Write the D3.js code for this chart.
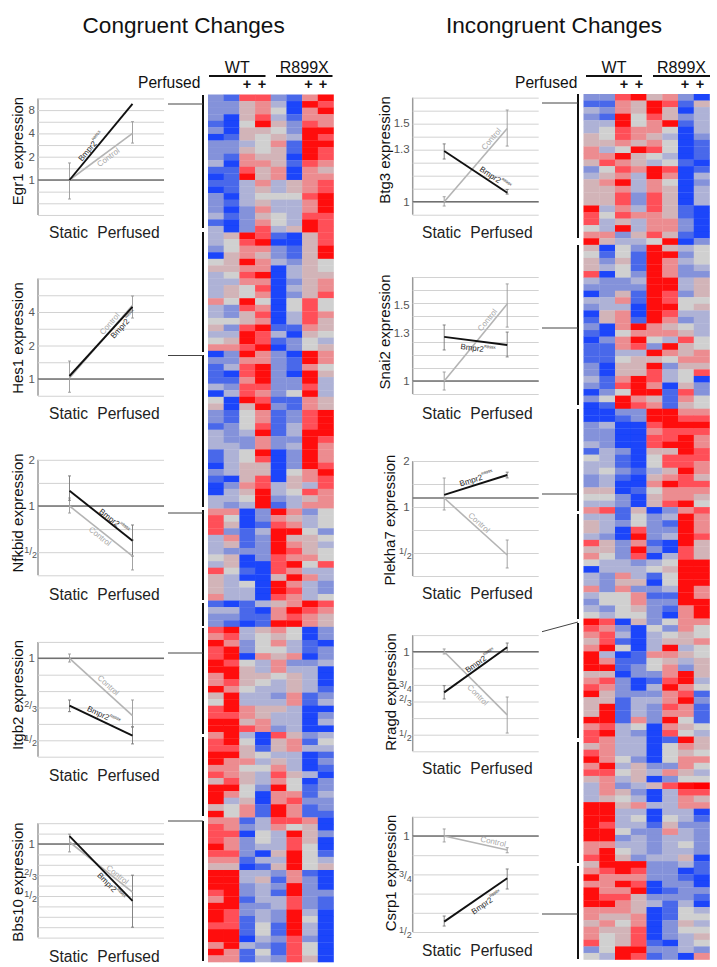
<!DOCTYPE html>
<html><head><meta charset="utf-8">
<script src="https://cdn.jsdelivr.net/npm/d3@7"></script>
<style>html,body{margin:0;padding:0;background:#fff}svg{display:block}text{font-family:"Liberation Sans",Arial,sans-serif}</style>
</head><body><svg id="c" width="717" height="967"></svg>
<script>
// Heatmap values: each row is 8 samples, digit 0 (most down) .. 4 (neutral) .. 8 (most up)
const heatCongruent = [
"21772168","22563087","22564068","20573166","10485276","20554288","01545387","22346188","22545187","21655087",
"30665176","11756065","01856066","11363567","01353567","20344478","21353368","20263368","31254377","10264387",
"30273587","35871057","34780057","24662158","05652158","45863254","55660354","34780355","33660256","35470356",
"35460257","64840474","32760474","32570376","44560375","52781165","33873054","45871243","66780245","02862086",
"22662186","13782164","10782085","11682283","32772273","03762483","40871165","50582165","21461278","21461278",
"12471378","32381388","32262287","33262386","13480286","13470286","03550287","23550468","10570567","02673537",
"03583476","33482356","32381366","66028624","74026534","75017634","72138842","36128554","35128653","32228754",
"45027664","35007847","74107633","53005863","53408632","53308732","63307634","10135687","33106876","22116765",
"21018865","78356402","67345402","86246310","78244312","78065602","87436223","88536330","68554530","67543530",
"86433531","58332612","48333613","78655300","77653302","88563303","88762300","68307523","78405614","77515633",
"88543301","86635302","66446301","76537530","57536402","88428412","86406613","83506722","54618612","84618611",
"66137760","76236450","77043852","76243750","86233740","77205841","66133843","55015845","88332610","88351620",
"88232820","78231822","68133721","88223721","87232830","87132840","77141830","88141830","88032720","68321740",
"86141740","66132750"];
const heatIncongruent = [
"22785620","11658715","32658503","21847523","33846813","34766403","54765302","55656401","63487401","66854301",
"57653410","24768701","35638603","56836402","55636503","55727503","55727503","83637510","74766510","73536620",
"43836620","66257510","85334802","50428534","41418824","52518634","53418623","70428622","32238835","22228835",
"02518725","33618744","23308845","05608733","15618623","20686543","10466653","02684374","11672854","11338656",
"11455466","20558255","20557347","31687340","21786052","02488172","24865164","01876154","00228866","00128877",
"23007888","22006777","22007786","32007886","13205587","43104777","33104776","34213586","23105675","23006877",
"55014666","44205665","33205784","67150267","33142386","53242186","53072286","32082387","75261085","55282075",
"64270375","43323488","03334588","32631488","32550488","62622386","34461186","24462288","32452168","43442068",
"87052466","76204264","67303454","57103556","68403834","83016654","86114535","88124625","55022685","67201783",
"76203864","85222671","55133682","58132761","58132661","88162841","67340654","78320743","76330185","56330465",
"76330454","86420466","68352264","77453653","56350244","36235789","36520377","35430365","88563366","88330330",
"88340431","87331522","88422632","88232332","66332342","68432332","78523350","58882231","67872201","86662210",
"66870220","86680122","87752221","88653130","66650143","65560144","56460253","65570244","64570235","74571034",
"24882232","43871206"];

const heatStops = ["#1a44fa","#4a68ea","#8492da","#aeb2d6","#d0d0d0","#d2b4b8","#ec8c90","#ff5058","#ff0a0a"];
const heatLevels = [0,1,2,3,4,5,6,7,8];

// Line panels
const genes   = ["Egr1","Hes1","Nfkbid","Itgb2","Bbs10","Btg3","Snai2","Plekha7","Rragd","Csrp1"];
const bmpr    = [[1,9.6],[1.064,4.45],[1.258,.594],[.67,.52],[1.11,.468],[1.299,1.047],[1.265,1.212],[1.2,1.62],[.712,1.037],[.539,.737]];
const control = [[1,4],[1.02,4.6],[1,.472],[1,.616],[1.027,.527],[1,1.459],[1,1.507],[1.145,.485],[1,.59],[1,.904]];
const errStaticControl = [[.568,1.66],[.76,1.45],[.9,1.127],[.969,1.037],[.9,1.14],[.978,1.026],[.953,1.049],[.956,1.548],[.981,1.023],[.958,1.052]];
const errStaticBmpr    = [null,null,[1.09,1.57],[.637,.703],null,[1.246,1.347],[1.18,1.348],null,[.674,.753],[.522,.561]];
const errPerfControl   = [[3,5.67],[3.53,5.57],[.383,.6],[.56,.703],null,[1.332,1.604],[1.333,1.678],[.399,.608],[.507,.685],[.886,.919]];
const errPerfBmpr      = [null,null,[.472,.752],[.485,.56],[.33,.66],[1.04,1.065],[1.137,1.298],[1.55,1.69],[.997,1.075],[.682,.788]];
const refLine = [1,1,1,1,1,1,1,1.145,1,1];
const tickVals = [[8,4,2,1],[4,2,1],[2,1,.5],[1,.6667,.5],[1,.6667,.5],[1.5,1.312,1],[1.5,1.291,1],[2,1,.5],[1,.75,.6667,.5],[1,.75,.5]];
const tickText = [["8","4","2","1"],["4","2","1"],["2","1","1/2"],["1","2/3","1/2"],["1","2/3","1/2"],["1.5","1.3","1"],["1.5","1.3","1"],["2","1","1/2"],["1","3/4","2/3","1/2"],["1","3/4","1/2"]];
const gridK    = [[-3,7],[-1,6],[-3,2],[-6,1],[-9,2],[-1,8],[-1,8],[-3,2],[-6,1],[-5,1]];
const gridStep = [.5,.5,.5,.2,.2,.0967,.1,.5,.2,.2];

// Layout (not data)
const refY   = [180,379,506,658.3,844,201.7,381,507,651.7,836];
const perDbl = [23.3,33.5,46.2,82,52,134.5,130,46,83,96];
const colX   = [38,38,38,38,38,412.7,412.7,412.7,412.7,412.7];
const gridW  = 126;
const xStatic = 31.5, xPerf = 94.5;
const titleX = [17,17,17,17,17,384,384,389,390,390];
const titleY = [151,338,513,695,882,150,332,520,692,873];
const labelY = [232,413,594,775,956,232,413,593,768,950];
const bLabel = [[.40,-5],[.8,5],[.67,-4],[.5,-6],[.72,5],[.76,-6],[.55,7],[.54,-6],[.62,-5],[.6,8]];
const cLabel = [[.57,5],[.7,-5],[.53,5],[.55,-6],[.72,-4],[.81,-5],[.75,-5],[.5,-5],[.61,7],[.76,-5]];

const svg = d3.select("#c");

const defs = svg.append("defs");
defs.append("filter").attr("id","soft").attr("filterUnits","userSpaceOnUse")
  .attr("x",190).attr("y",80).attr("width",527).attr("height",887)
  .append("feGaussianBlur").attr("stdDeviation",.55);

function txt(x,y,s,size,anchor,fill){return svg.append("text").attr("x",x).attr("y",y).attr("font-size",size).attr("text-anchor",anchor||"start").attr("fill",fill||"#111").text(s);}
txt(82.5,33,"Congruent Changes",22.6);
txt(446,33,"Incongruent Changes",22.6);

// Heatmaps
const heatColor = d3.scaleLinear().domain(heatLevels).range(heatStops);
function heatmap(rows,x0,x1,y0,y1){
  const xs = d3.scaleBand().domain(d3.range(8)).range([x0,x1]);
  const ys = d3.scaleBand().domain(d3.range(rows.length)).range([y0,y1]);
  const g = svg.append("g").attr("filter","url(#soft)");
  rows.forEach((r,i)=>{
    g.selectAll(null).data(r.split("").map(Number)).enter().append("rect")
      .attr("x",(d,j)=>xs(j)).attr("y",ys(i)).attr("width",xs.bandwidth()+.3).attr("height",ys.bandwidth()+.3)
      .attr("fill",d=>heatColor(d));
  });
}
heatmap(heatCongruent,208,333.5,94.5,962);
heatmap(heatIncongruent,583.5,709.5,94,959.5);

// Heatmap headers
function header(a0,a1,b0,b1,perfX,plus){
  [[a0,a1,"WT"],[b0,b1,"R899X"]].forEach(h=>{
    svg.append("line").attr("x1",h[0]).attr("x2",h[1]).attr("y1",76).attr("y2",76).attr("stroke","#111").attr("stroke-width",2);
    txt((h[0]+h[1])/2,72.5,h[2],16,"middle");
  });
  txt(perfX,88,"Perfused",15.6);
  plus.forEach(x=>txt(x,89,"+",14.5,"middle").attr("font-weight","bold"));
}
header(209,265.5,276,332.5,138,[247,262,308.5,323]);
header(586,642,653,710,515,[624,639,685,700]);

// Brackets and connectors
const bracketL = [[95,228],[232,352],[355,507],[510,600],[603,626],[628,734],[737,816],[821,961]];
const bracketR = [[94,238],[245,405],[409,511],[514,619],[623,738],[742,863],[866,959]];
bracketL.forEach(b=>svg.append("line").attr("x1",203).attr("x2",203).attr("y1",b[0]).attr("y2",b[1]).attr("stroke","#111").attr("stroke-width",2));
bracketR.forEach(b=>svg.append("line").attr("x1",578).attr("x2",578).attr("y1",b[0]).attr("y2",b[1]).attr("stroke","#111").attr("stroke-width",2));
[[168,104,203,104],[168,355.5,203,355.5],[168,513,203,513],[168,653,203,653],[168,821,203,821],
 [542,103,578,103],[542,328,578,328],[542,494,578,494],[542,631.7,578,622],[542,914,578,914]].forEach(c=>
  svg.append("line").attr("x1",c[0]).attr("y1",c[1]).attr("x2",c[2]).attr("y2",c[3]).attr("stroke","#444").attr("stroke-width",1));

// Panels
genes.forEach((gene,i)=>{
  const g = svg.append("g");
  const left = colX[i];
  const kRange = d3.range(gridK[i][0],gridK[i][1]+1);
  const gridVals = kRange.map(k=>Math.pow(2,k*gridStep[i]));
  const vTop = gridVals[gridVals.length-1], vBot = gridVals[0];
  const yTop = refY[i]-Math.log2(vTop)*perDbl[i], yBot = refY[i]-Math.log2(vBot)*perDbl[i];
  const y = d3.scaleLog().base(2).domain([vBot,vTop]).range([yBot,yTop]);
  const x = d3.scalePoint().domain(["Static","Perfused"]).range([left+xStatic,left+xPerf]);

  const ax = g.append("g").attr("transform",`translate(${left},0)`)
    .call(d3.axisLeft(y).tickValues(gridVals).tickSize(-gridW).tickFormat(""));
  ax.selectAll(".tick line").attr("stroke","#d2d2d2").attr("stroke-width",1);
  ax.select(".domain").attr("stroke","#9a9a9a").attr("stroke-width",1.5).attr("d",`M0,${yBot}V${yTop}`);

  g.append("line").attr("x1",left).attr("x2",left+gridW).attr("y1",y(refLine[i])).attr("y2",y(refLine[i])).attr("stroke","#707070").attr("stroke-width",1.4);

  // tick labels
  tickVals[i].forEach((v,j)=>{
    const s = tickText[i][j], right = left-3;
    if(s.includes("/")){
      const [a,b] = s.split("/");
      const t = g.append("text").attr("x",right+2).attr("y",y(v)+3).attr("text-anchor","end").attr("fill","#555").attr("font-size",9);
      t.append("tspan").attr("dy",-2).text(a);
      t.append("tspan").attr("font-size",10).attr("dy",2).text("/");
      t.append("tspan").attr("dy",3).text(b);
    } else {
      g.append("text").attr("x",right).attr("y",y(v)+4).attr("text-anchor","end").attr("fill","#555").attr("font-size",11.5).text(s);
    }
  });

  // error bars
  function err(px,r,col){
    if(!r) return;
    [[px,y(r[0]),px,y(r[1])],[px-1.5,y(r[0]),px+1.5,y(r[0])],[px-1.5,y(r[1]),px+1.5,y(r[1])]].forEach(c=>
      g.append("line").attr("x1",c[0]).attr("y1",c[1]).attr("x2",c[2]).attr("y2",c[3]).attr("stroke",col).attr("stroke-width",.9));
  }
  err(x("Static"),errStaticControl[i],"#999");
  err(x("Perfused"),errPerfControl[i],"#999");
  err(x("Static"),errStaticBmpr[i],"#777");
  err(x("Perfused"),errPerfBmpr[i],"#777");

  // lines
  const ln = d3.line().x((d,k)=>x(k?"Perfused":"Static")).y(d=>y(d));
  g.append("path").attr("d",ln(control[i])).attr("fill","none").attr("stroke","#b4b4b4").attr("stroke-width",1.6);
  g.append("path").attr("d",ln(bmpr[i])).attr("fill","none").attr("stroke","#111").attr("stroke-width",1.9);

  // line labels
  function lineLabel(vals,cfg,isB){
    const x0=x("Static"),x1=x("Perfused"),y0=y(vals[0]),y1=y(vals[1]);
    const ang=Math.atan2(y1-y0,x1-x0), c=Math.cos(ang), s=Math.sin(ang);
    const px=x0+(x1-x0)*cfg[0]-s*cfg[1], py=y0+(y1-y0)*cfg[0]+c*cfg[1];
    const t=g.append("text").attr("text-anchor","middle").attr("dominant-baseline","central")
      .attr("transform",`translate(${px},${py}) rotate(${ang*180/Math.PI})`)
      .attr("font-size",8).attr("fill",isB?"#2a2a2a":"#a8a8a8");
    if(isB){ t.append("tspan").text("Bmpr2"); t.append("tspan").attr("font-size",3.8).attr("dy",-2.5).text("R899X"); }
    else t.text("Control");
  }
  lineLabel(bmpr[i],bLabel[i],true);
  lineLabel(control[i],cLabel[i],false);

  // titles
  g.append("text").attr("transform",`translate(${titleX[i]},${titleY[i]}) rotate(-90)`).attr("text-anchor","middle").attr("dominant-baseline","central")
    .attr("font-size",15).attr("fill","#111").text(gene+" expression");
  const off = i<5?0:-1.7;
  g.append("text").attr("x",left+11+off).attr("y",labelY[i]+5.5).attr("font-size",15.6).attr("fill","#222").text("Static");
  g.append("text").attr("x",left+59.3+off).attr("y",labelY[i]+5.5).attr("font-size",15.6).attr("fill","#222").text("Perfused");
});
</script></body></html>
